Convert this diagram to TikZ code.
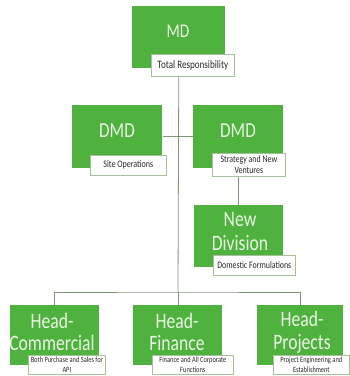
\documentclass[tikz,border=0pt]{standalone}
\usepackage{fontspec}
\setmainfont{Carlito}[FakeStretch=0.8]
\usetikzlibrary{shadows}

\definecolor{boxgreen}{RGB}{80,178,62}
\definecolor{boxtext}{RGB}{234,246,228}
\definecolor{tagline}{RGB}{165,192,155}
\definecolor{linkgray}{RGB}{128,148,122}
\definecolor{tagtext}{RGB}{40,40,40}

\tikzset{
  sized/.style 2 args={minimum width=#1*0.75pt, minimum height=#2*0.75pt},
  rolebox/.style={fill=boxgreen, draw=none, inner sep=0pt, anchor=north west},
  tagbox/.style={fill=white, draw=tagline, line width=0.5pt, inner sep=0pt,
    anchor=north west, align=center, text=tagtext,
    drop shadow={opacity=0.18, shadow xshift=0.8pt, shadow yshift=-0.8pt}},
  title/.style={text=boxtext, inner sep=0pt, align=center},
  headtitle/.style={title, font=\fontsize{16.5}{17}\selectfont},
  link/.style={draw=linkgray, line width=0.6pt},
}

\begin{document}
\begin{tikzpicture}[x=0.75pt, y=-0.75pt]
  \useasboundingbox (0,0) rectangle (350,376);

  % connector anchors
  \coordinate (hub) at (178,292);

  % green role boxes
  \node[rolebox, sized={93}{62}] (md)    at (132,6)   {};
  \node[rolebox, sized={90}{63}] (dmdl)  at (72,105)  {};
  \node[rolebox, sized={90}{63}] (dmdr)  at (193,105) {};
  \node[rolebox, sized={89}{62}] (newd)  at (194,205) {};
  \node[rolebox, sized={89}{60}] (hcom)  at (10,305)  {};
  \node[rolebox, sized={89}{60}] (hfin)  at (133,305) {};
  \node[rolebox, sized={86}{60}] (hproj) at (257,305) {};

  % connectors (drawn beneath the description tags)
  \draw[link] (md.south |- 0,76) -- (hub);
  \draw[link] (dmdl.east) -- (dmdr.west);
  \draw[link] (newd.north |- 0,176) -- (newd.north);
  \draw[link] (hcom.north) |- (hub) -| (hproj.north);
  \draw[link] (hub) -- (hfin.north -| hub);

  % titles
  \node[title, font=\fontsize{14.5}{16}\selectfont] (tmd) at (178,31) {MD};
  \node[title, font=\fontsize{16}{18}\selectfont] (tdmdl) at (117,131) {DMD};
  \node[title, font=\fontsize{16}{18}\selectfont] (tdmdr) at (238,131) {DMD};
  \node[title, font=\fontsize{16.5}{18}\selectfont] (tnewd) at (240,232) {New\\Division};
  \node[headtitle] (thcom)  at (52,332)  {Head-\\Commercial};
  \node[headtitle] (thfin)  at (177,332) {Head-\\Finance};
  \node[headtitle] (thproj) at (302,332) {Head-\\Projects};

  % description tags
  \node[tagbox, sized={83}{22}, font=\fontsize{8.5}{10}\selectfont] (mdtag) at (151,54) {Total Responsibility};
  \node[tagbox, sized={76}{20}, font=\fontsize{7.5}{9}\selectfont] (dmdltag) at (90,155) {Site Operations};
  \node[tagbox, sized={73}{23}, font=\fontsize{7.4}{8.6}\selectfont] (dmdrtag) at (212,153) {Strategy and New\\Ventures};
  \node[tagbox, sized={82}{20}, font=\fontsize{7.4}{9}\selectfont] (newdtag) at (213,255) {Domestic Formulations};
  \node[tagbox, sized={77}{19}, font=\fontsize{6}{7}\selectfont] (hcomtag) at (28,355) {Both Purchase and Sales for\\API};
  \node[tagbox, sized={81}{19}, font=\fontsize{6}{7}\selectfont] (hfintag) at (152,355) {Finance and All Corporate\\Functions};
  \node[tagbox, sized={76}{19}, font=\fontsize{6}{7}\selectfont] (hprojtag) at (273,355) {Project Engineering and\\Establishment};
\end{tikzpicture}
\end{document}
